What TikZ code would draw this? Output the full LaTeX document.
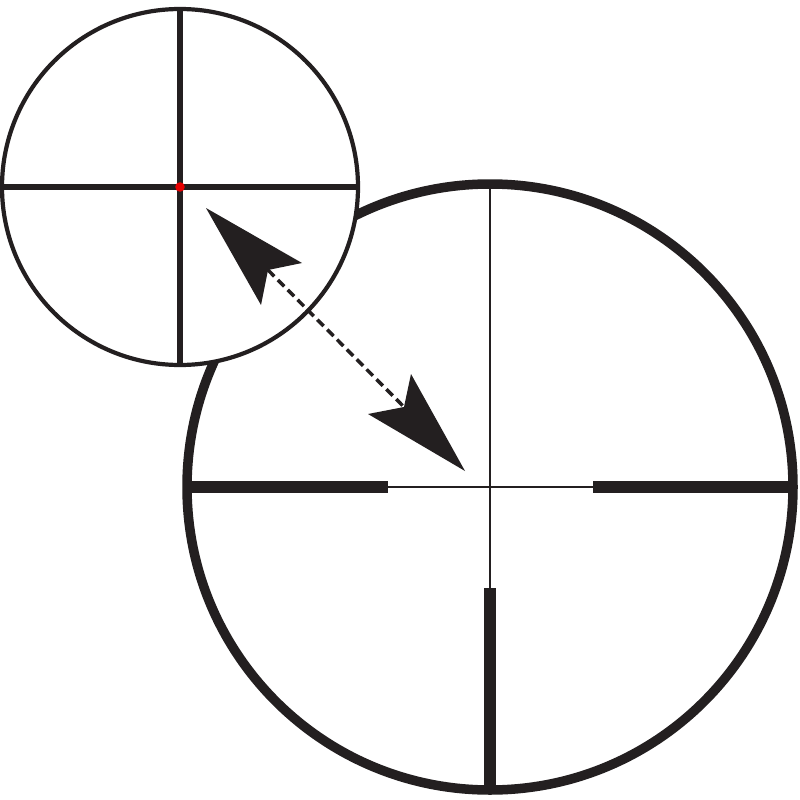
\documentclass[tikz,border=0pt]{standalone}
\definecolor{ink}{RGB}{35,31,32}
\begin{document}
\begin{tikzpicture}[x=1pt,y=-1pt,
  bigring/.style={circle,draw=ink,line width=9.5pt,fill=white,minimum size=606pt,inner sep=0pt,outer sep=0pt},
  smallring/.style={circle,draw=ink,line width=4.2pt,fill=white,minimum size=356pt,inner sep=0pt,outer sep=0pt},
  fine/.style={draw=ink,line width=2.4pt},
  post/.style={draw=ink,line width=11.5pt},
  smallhair/.style={draw=ink,line width=5.5pt},
  headfill/.style={fill=ink},
  dashline/.style={draw=ink,line width=3.5pt,dash pattern=on 9pt off 5pt}]
\useasboundingbox (0,0) rectangle (800,800);
\fill[white] (0,0) rectangle (800,800);
% big reticle
\node[bigring] (big) at (490,487) {};
\path[fine] (big.north) -- (big.south);
\path[fine] (big.west) -- (big.east);
\path[post] (big.west) -- (388,487);
\path[post] (593,487) -- (big.east);
\path[post] (490,588) -- (big.south);
% small reticle
\node[smallring] (small) at (180,187) {};
\path[smallhair] (small.north) -- (small.south);
\path[smallhair] (small.west) -- (small.east);
\fill[red!90!black] (small.center) circle (4.8pt);
% double arrow
\coordinate (n1) at (268,270);
\coordinate (n2) at (404,407);
\path[dashline] (n1) -- (n2);
\path[headfill] (206,208) -- (302,263) -- (n1) -- (261,305) -- cycle;
\path[headfill] (465,471) -- (368,414) -- (n2) -- (411,374) -- cycle;
\end{tikzpicture}
\end{document}
